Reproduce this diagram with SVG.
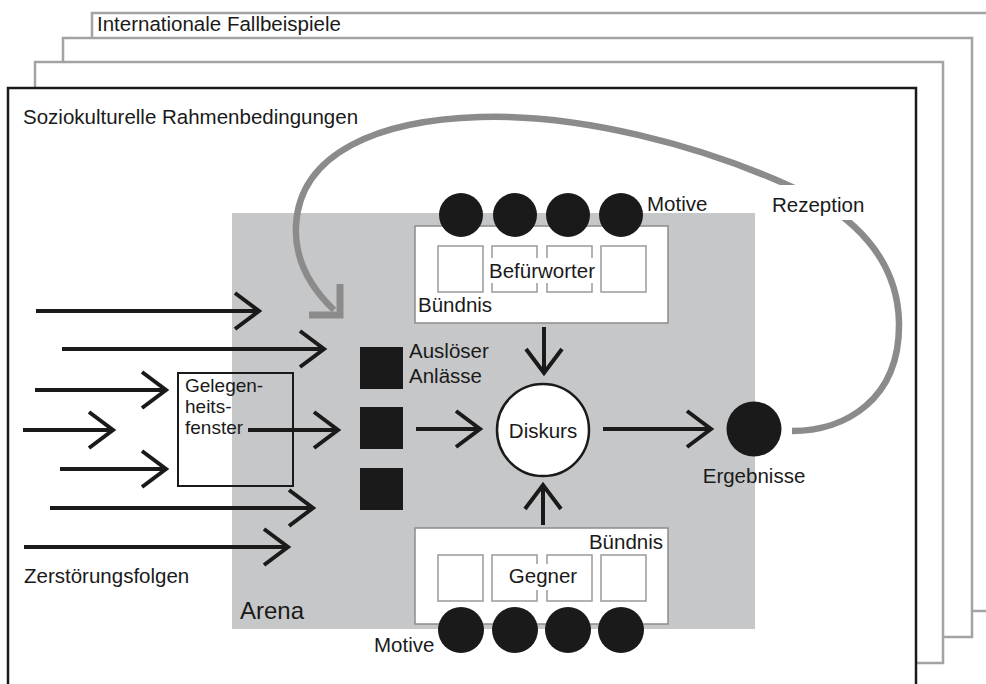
<svg xmlns="http://www.w3.org/2000/svg" width="986" height="684" viewBox="0 0 986 684">
<defs>
<style>
.t{font-family:"Liberation Sans",Arial,sans-serif;font-size:20.5px;fill:#1a1a1a}
.g{font-size:19px}
.fr{fill:#fff;stroke:#a3a3a3;stroke-width:2.5}
.box{fill:#fff;stroke:#8c8c8c;stroke-width:1.5}
.sq{fill:#fff;stroke:#9a9a9a;stroke-width:1.5}
.dot{fill:#1a1a1a}
.ar{stroke:#1a1a1a;stroke-width:4;fill:none;marker-end:url(#ah)}
</style>
<marker id="ah" markerUnits="userSpaceOnUse" viewBox="-30 -25 40 50" markerWidth="40" markerHeight="50" refX="0" refY="0" orient="auto" overflow="visible">
<path d="M-24,-18 L0,0 L-24,18" fill="none" stroke="#1a1a1a" stroke-width="4" stroke-linejoin="miter"/>
</marker>
</defs>
<rect width="986" height="684" fill="#fff"/>
<g id="frames">
<rect class="fr" x="92" y="13" width="910" height="598"/>
<rect class="fr" x="63" y="38" width="909" height="599"/>
<rect class="fr" x="35" y="62" width="908" height="601"/>
<rect x="8" y="88" width="908" height="620" fill="#fff" stroke="#1a1a1a" stroke-width="2.5"/>
<text class="t" x="97" y="31">Internationale Fallbeispiele</text>
<text class="t" x="23" y="124">Soziokulturelle Rahmenbedingungen</text>
</g>
<g id="arena">
<rect x="232" y="213" width="523" height="416" fill="#c6c7c9"/>
<text class="t" x="240" y="619" style="font-size:24px">Arena</text>
</g>
<g id="befuerworter">
<rect class="box" x="415" y="226" width="253" height="97"/>
<rect class="sq" x="438" y="246" width="45" height="46"/>
<rect class="sq" x="492" y="246" width="45" height="46"/>
<rect class="sq" x="547" y="246" width="45" height="46"/>
<rect class="sq" x="601" y="246" width="45" height="46"/>
<rect x="487" y="258" width="111" height="25" fill="#fff"/>
<text class="t" x="542" y="278" text-anchor="middle">Befürworter</text>
<text class="t" x="418" y="312">Bündnis</text>
<circle class="dot" cx="461" cy="215" r="22"/>
<circle class="dot" cx="515" cy="215" r="22"/>
<circle class="dot" cx="568" cy="215" r="22"/>
<circle class="dot" cx="621" cy="215" r="22"/>
<text class="t" x="647" y="211">Motive</text>
</g>
<g id="gegner">
<rect class="box" x="415" y="528" width="253" height="96"/>
<rect class="sq" x="438" y="555" width="45" height="46"/>
<rect class="sq" x="492" y="555" width="45" height="46"/>
<rect class="sq" x="547" y="555" width="45" height="46"/>
<rect class="sq" x="601" y="555" width="45" height="46"/>
<rect x="506" y="564" width="74" height="26" fill="#fff"/>
<text class="t" x="543" y="583" text-anchor="middle">Gegner</text>
<text class="t" x="663" y="549" text-anchor="end">Bündnis</text>
<circle class="dot" cx="461" cy="630" r="23"/>
<circle class="dot" cx="515" cy="630" r="23"/>
<circle class="dot" cx="568" cy="630" r="23"/>
<circle class="dot" cx="621" cy="630" r="23"/>
<text class="t" x="374" y="652">Motive</text>
</g>
<g id="ausloeser">
<rect class="dot" x="360" y="347" width="43" height="42"/>
<rect class="dot" x="360" y="407" width="43" height="42"/>
<rect class="dot" x="360" y="468" width="43" height="42"/>
<text class="t" x="409" y="358">Auslöser</text>
<text class="t" x="409" y="383">Anlässe</text>
</g>
<g id="gelegenheitsfenster">
<rect x="178" y="373" width="115" height="113" fill="none" stroke="#1a1a1a" stroke-width="2"/>
<text class="t g" x="185" y="392">Gelegen-</text>
<text class="t g" x="185" y="413">heits-</text>
<text class="t g" x="185" y="434">fenster</text>
</g>
<g id="diskurs">
<circle cx="543" cy="430" r="46" fill="#fff" stroke="#1a1a1a" stroke-width="2.5"/>
<text class="t" x="543" y="438" text-anchor="middle">Diskurs</text>
</g>
<g id="ergebnisse">
<circle class="dot" cx="754" cy="429" r="27.5"/>
<text class="t" x="754" y="483" text-anchor="middle">Ergebnisse</text>
</g>
<text class="t" x="24" y="583">Zerstörungsfolgen</text>
<g id="connectors">
<path d="M792,431 C845,431 900,400 899,323 C898,260 855,215 792,187 C700,145 580,114 480,117 C380,120 300,152 296,225 C294,262 313,290 334,310" fill="none" stroke="#8b8b8b" stroke-width="6.5"/>
<path d="M309,315 L340,315 L340,284" fill="none" stroke="#8b8b8b" stroke-width="7" stroke-linejoin="miter"/>
<rect x="768" y="185" width="100" height="35" fill="#fff"/>
<text class="t" x="772" y="212">Rezeption</text>
<line class="ar" x1="36" y1="311" x2="259" y2="311"/>
<line class="ar" x1="62" y1="349" x2="324" y2="349"/>
<line class="ar" x1="35" y1="390" x2="166" y2="390"/>
<line class="ar" x1="23" y1="430" x2="113" y2="430"/>
<line class="ar" x1="60" y1="469" x2="166" y2="469"/>
<line class="ar" x1="50" y1="508" x2="313" y2="508"/>
<line class="ar" x1="24" y1="547" x2="288" y2="547"/>
<line class="ar" x1="248" y1="430" x2="338" y2="430"/>
<line class="ar" x1="416" y1="429" x2="480" y2="429"/>
<line class="ar" x1="603" y1="429" x2="711" y2="429"/>
<line class="ar" x1="544" y1="327" x2="544" y2="373"/>
<line class="ar" x1="543" y1="525" x2="543" y2="485"/>
</g>
</svg>
